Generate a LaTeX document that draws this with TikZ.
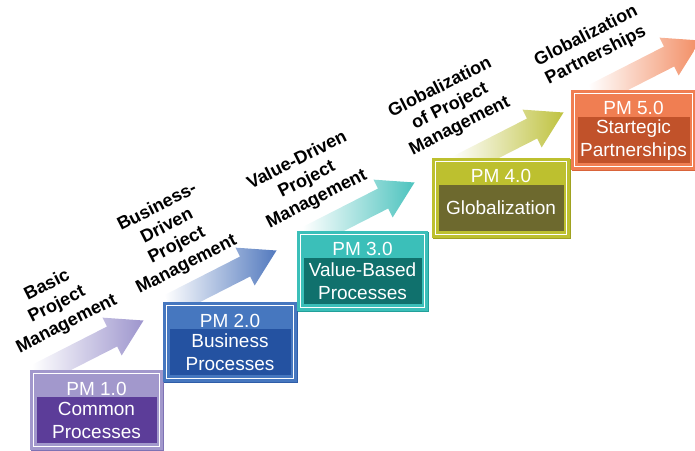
\documentclass[tikz,border=0pt]{standalone}
\usepackage{fontspec}
\newfontfamily\boxfont{Liberation Sans}
\usetikzlibrary{shapes.arrows, positioning, backgrounds}

\definecolor{pmA}{HTML}{A298CC}
\definecolor{pmAs}{HTML}{7E72B4}
\definecolor{pmAd}{HTML}{5C3D99}
\definecolor{arA}{HTML}{9D95CD}
\definecolor{pmB}{HTML}{4677BF}
\definecolor{pmBs}{HTML}{2F5DA8}
\definecolor{pmBd}{HTML}{2452A1}
\definecolor{arB}{HTML}{5279BE}
\definecolor{pmC}{HTML}{3BBFB9}
\definecolor{pmCs}{HTML}{22A09A}
\definecolor{pmCd}{HTML}{10716D}
\definecolor{arC}{HTML}{4CC3BE}
\definecolor{pmD}{HTML}{BDC02F}
\definecolor{pmDs}{HTML}{A0A220}
\definecolor{pmDd}{HTML}{6D692E}
\definecolor{arD}{HTML}{BFC23F}
\definecolor{pmE}{HTML}{F07E52}
\definecolor{pmEs}{HTML}{D9643A}
\definecolor{pmEd}{HTML}{C1522A}
\definecolor{arE}{HTML}{F28C62}

\begin{document}
\begin{tikzpicture}[
  x=1pt, y=1pt,
  every node/.style={inner sep=0pt, outer sep=0pt},
  frame/.style 2 args={fill=#1, draw=#1, double=white, double distance=1.2pt,
    line width=3pt, anchor=north west, minimum height=73pt,
    preaction={draw=#2, line width=7.2pt, transform canvas={shift={(1.2pt,-1.2pt)}}}},
  band/.style={fill=#1, text=white, align=center, anchor=north, minimum height=46pt,
    font=\boxfont\fontsize{19}{23}\selectfont},
  head/.style={text=white, anchor=base, font=\boxfont\fontsize{19}{23}\selectfont},
  lbl/.style={align=center, rotate=27, font=\boxfont\bfseries\fontsize{18}{21.5}\selectfont},
  stair/.style={single arrow, single arrow head extend=10pt, single arrow tip angle=62,
    inner ysep=11pt, minimum height=120pt, left color=white, right color=#1,
    draw=none, anchor=tip, rotate=27}
]
\useasboundingbox (0,0) rectangle (695,450);

% PM 1.0
\node [frame={pmA}{pmAs}, minimum width=126pt] (b1) at (33.5,76.5) {};
\node [band=pmAd, minimum width=120pt] (b1b) at ([yshift=-23.5pt]b1.north) {Common\\Processes};
\node [head] (b1h) at ([yshift=2pt]b1b.north) {PM 1.0};
\node [lbl] (l1) at ([shift={(23.5pt,68.5pt)}]b1.north west) {Basic\\Project\\Management};

% PM 2.0
\node [frame={pmB}{pmBs}, minimum width=127pt] (b2) at (166.5,144.5) {};
\node [band=pmBd, minimum width=121pt] (b2b) at ([yshift=-23.5pt]b2.north) {Business\\Processes};
\node [head] (b2h) at ([yshift=2pt]b2b.north) {PM 2.0};
\node [lbl] (l2) at ([shift={(5.5pt,69.5pt)}]b2.north west) {Business-\\Driven\\Project\\Management};

% PM 3.0
\node [frame={pmC}{pmCs}, minimum width=124pt] (b3) at (300.5,215.5) {};
\node [band=pmCd, minimum width=118pt] (b3b) at ([yshift=-23.5pt]b3.north) {Value-Based\\Processes};
\node [head] (b3h) at ([yshift=2pt]b3b.north) {PM 3.0};
\node [lbl] (l3) at ([shift={(6.5pt,54.5pt)}]b3.north west) {Value-Driven\\Project\\Management};

% PM 4.0
\node [frame={pmD}{pmDs}, minimum width=131pt] (b4) at (435.5,288.5) {};
\node [band=pmDd, minimum width=125pt] (b4b) at ([yshift=-23.5pt]b4.north) {Globalization};
\node [head] (b4h) at ([yshift=2pt]b4b.north) {PM 4.0};
\node [lbl] (l4) at ([shift={(14.5pt,54.5pt)}]b4.north west) {Globalization\\of Project\\Management};

% PM 5.0
\node [frame={pmE}{pmEs}, minimum width=118pt] (b5) at (574.5,356.5) {};
\node [band=pmEd, minimum width=112pt] (b5b) at ([yshift=-23.5pt]b5.north) {Startegic\\Partnerships};
\node [head] (b5h) at ([yshift=2pt]b5b.north) {PM 5.0};
\node [lbl] (l5) at ([shift={(16.5pt,47.5pt)}]b5.north west) {Globalization\\Partnerships};

% arrows behind the boxes
\begin{scope}[on background layer]
\node [stair=arA] (a1) at ([shift={(110pt,53pt)}]b1.north west) {};
\node [stair=arB] (a2) at ([shift={(110pt,55pt)}]b2.north west) {};
\node [stair=arC] (a3) at ([shift={(114pt,52pt)}]b3.north west) {};
\node [stair=arD] (a4) at ([shift={(128pt,49pt)}]b4.north west) {};
\node [stair=arE] (a5) at ([shift={(126pt,53pt)}]b5.north west) {};
\end{scope}
\end{tikzpicture}
\end{document}
